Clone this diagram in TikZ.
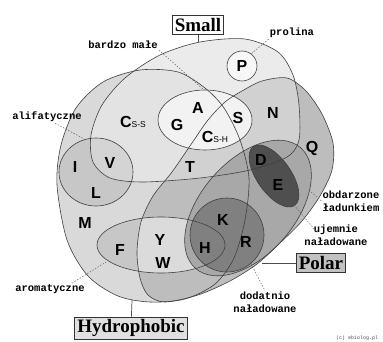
\documentclass[tikz,border=0pt]{standalone}
\usepackage{fontspec}
\setmainfont{Liberation Serif}
\setsansfont{Liberation Sans}
\setmonofont{Liberation Mono}

% kontury zbiorow (wspolrzedne w pikselach, os y w dol)
\newcommand{\hydroShape}{plot[smooth cycle] coordinates {(57,185) (61,145) (76,108) (103,82) (140,70) (178,72) (205,88) (224,108) (240,140) (249,178) (245,220) (234,258) (215,284) (185,299) (150,302) (118,296) (88,276) (67,240)}}
\newcommand{\polarShape}{plot[smooth cycle] coordinates {(208,120) (225,102) (242,91) (262,81) (287,78) (306,91) (322,114) (333,143) (332,170) (320,196) (302,221) (280,243) (257,264) (230,281) (198,295) (165,302) (148,295) (140,278) (137,252) (141,222) (153,196) (172,172) (192,143)}}
\newcommand{\smallShape}{plot[smooth cycle] coordinates {(200,42) (245,39) (278,52) (293,75) (299,105) (299,140) (287,157) (250,170) (200,178) (143,182) (110,178) (93,162) (91,135) (102,105) (125,78) (160,55)}}
\newcommand{\tinyShape}{(205,120) ellipse [x radius=47, y radius=30]}
\newcommand{\aliShape}{(96,172) ellipse [x radius=37, y radius=34]}
\newcommand{\aromShape}{(161,245) ellipse [x radius=64, y radius=28]}
\newcommand{\proShape}{(242,66) circle [radius=15]}
\newcommand{\posShape}{(227,235) circle [radius=37]}
\newcommand{\indeks}[1]{{\mdseries\fontsize{8.5}{8.5}\selectfont #1}}

\begin{document}
\begin{tikzpicture}[x=1pt, y=-1pt,
    kontur/.style={draw=black!75, line width=0.6pt},
    litera/.style={font=\sffamily\bfseries\fontsize{16}{16}\selectfont, inner sep=0pt},
    zbior/.style={draw=black!80, line width=0.7pt, inner sep=2.5pt,
                  font=\rmfamily\bfseries\fontsize{19}{19}\selectfont},
    opis/.style={font=\ttfamily\bfseries\fontsize{10.5}{12.5}\selectfont, align=center, inner sep=1pt},
    odnosnik/.style={black!60, line width=0.5pt, dash pattern=on 1.5pt off 1.5pt},
    wskaznik/.style={black!70, line width=0.7pt}
]
\useasboundingbox (0,0) rectangle (383,342);

% wypelnienia
\fill[black!15] \hydroShape;
\fill[black!26] \polarShape;
\fill[black!8] \smallShape;
\begin{scope}
  \clip \smallShape;
  \fill[black!11] \hydroShape;
  \fill[black!18] \polarShape;
\end{scope}
\fill[black!22] \aliShape;
\begin{scope}
  \clip \smallShape;
  \fill[black!17] \aliShape;
\end{scope}
\fill[black!22] \aromShape;
\begin{scope}
  \clip \polarShape;
  \fill[black!14] \aromShape;
\end{scope}
\fill[black!5] \tinyShape;
\fill[black!3] \proShape;
\fill[black!34, rotate around={49:(248,208)}] (248,208) ellipse [x radius=80, y radius=47];
\fill[black!50] \posShape;
\fill[black!69, rotate around={-55:(274,176)}] (274,176) ellipse [x radius=36, y radius=17];

% kontury
\draw[kontur] \hydroShape;
\draw[kontur] \polarShape;
\draw[kontur] \smallShape;
\draw[kontur] \tinyShape;
\draw[kontur] \aliShape;
\draw[kontur] \aromShape;
\draw[kontur] \proShape;
\draw[kontur, rotate around={49:(248,208)}] (248,208) ellipse [x radius=80, y radius=47];
\draw[kontur] \posShape;
\draw[kontur, rotate around={-55:(274,176)}] (274,176) ellipse [x radius=36, y radius=17];

% aminokwasy
\node[litera] (P) at (242,66) {P};
\node[litera] (Css) at (133,122) {C\indeks{S-S}};
\node[litera] (A) at (198,108) {A};
\node[litera] (G) at (177,125) {G};
\node[litera] (S) at (238,118) {S};
\node[litera] (Csh) at (215,137) {C\indeks{S-H}};
\node[litera] (N) at (273,113) {N};
\node[litera] (Q) at (312,148) {Q};
\node[litera] (D) at (261,160) {D};
\node[litera] (E) at (278,185) {E};
\node[litera] (T) at (190,167) {T};
\node[litera] (I) at (75,167) {I};
\node[litera] (V) at (110,163) {V};
\node[litera] (L) at (96,193) {L};
\node[litera] (M) at (85,223) {M};
\node[litera] (F) at (120,250) {F};
\node[litera] (Y) at (160,240) {Y};
\node[litera] (W) at (163,263) {W};
\node[litera] (H) at (205,248) {H};
\node[litera] (K) at (223,220) {K};
\node[litera] (R) at (246,242) {R};

% nazwy zbiorow
\node[zbior, fill=white]    (small) at (198,25)  {Small};
\node[zbior, fill=black!12] (hydro) at (131,328) {Hydrophobic};
\node[zbior, fill=black!24] (polar) at (321,263) {Polar};

\coordinate (smallTop) at (198,42);
\coordinate (hydroBot) at (132,300);
\coordinate (polarTip) at (262,263);
\draw[wskaznik] (small) -- (smallTop);
\draw[wskaznik] (hydro) -- (hydroBot);
\draw[wskaznik] (polar) -- (polarTip);

% opisy
\node[opis] (bardzo)   at (123,45)  {bardzo małe};
\node[opis] (prolina)  at (292,33)  {prolina};
\node[opis] (alifat)   at (47,117)  {alifatyczne};
\node[opis] (aromat)   at (50,289)  {aromatyczne};
\node[opis, align=left] (obdarz) at (351,201) {obdarzone\\ładunkiem};
\node[opis] (ujemnie)  at (336,235) {ujemnie\\naładowane};
\node[opis] (dodatnio) at (265,302) {dodatnio\\naładowane};
\node[font=\ttfamily\fontsize{5}{5}\selectfont, text=black!70] (copy) at (357,338) {(c) ebiolog.pl};

\coordinate (tinyTop)   at (204,90);
\coordinate (proTip)    at (251,54);
\coordinate (aliTip)    at (86,140);
\coordinate (aromTip)   at (106,262);
\coordinate (chargeTip) at (309,190);
\coordinate (negTip)    at (294,205);
\coordinate (posTip)    at (251,264);

\draw[odnosnik] (bardzo.south east) -- (tinyTop);
\draw[odnosnik] (prolina.south west) -- (proTip);
\draw[odnosnik] ([xshift=8pt]alifat.south) -- (aliTip);
\draw[odnosnik] ([xshift=22pt]aromat.north) -- (aromTip);
\draw[odnosnik] (chargeTip) -- (obdarz.west);
\draw[odnosnik] (negTip) -- ([shift={(14,9)}]ujemnie.north west);
\draw[odnosnik] (posTip) -- (dodatnio.north);

\end{tikzpicture}
\end{document}
